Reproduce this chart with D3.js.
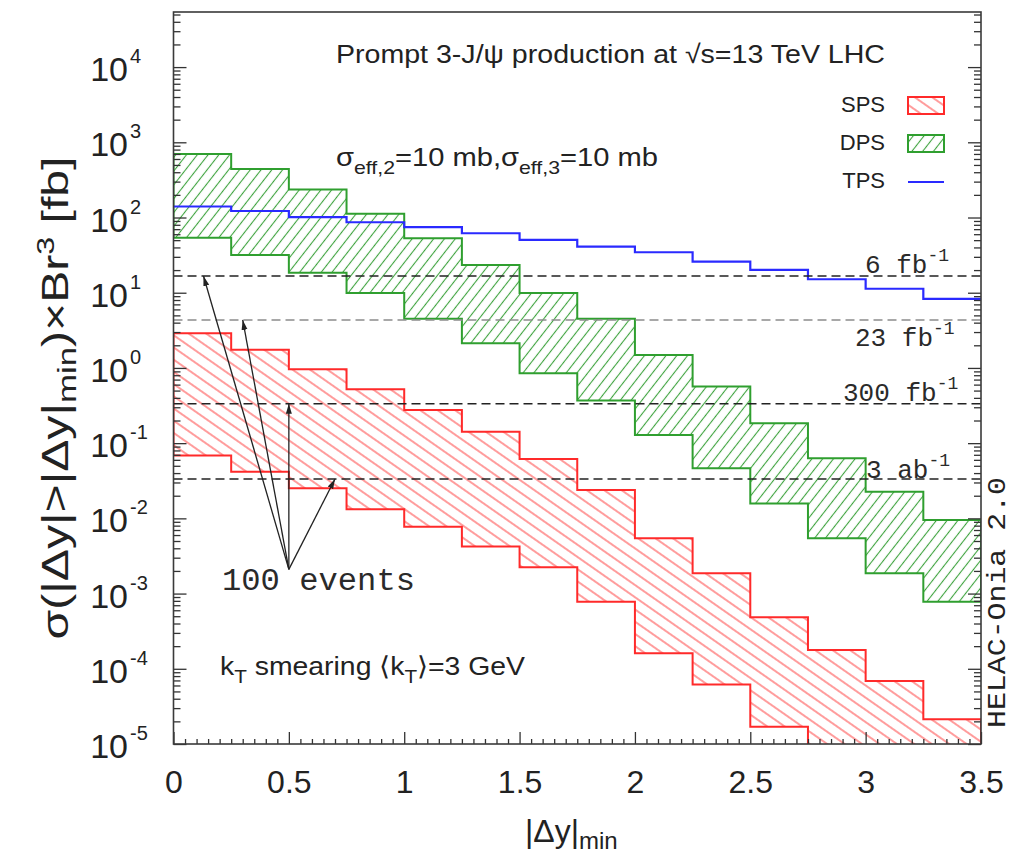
<!DOCTYPE html>
<html>
<head>
<meta charset="utf-8">
<script src="https://cdn.jsdelivr.net/npm/d3@7"></script>
<style>
  body { margin: 0; background: #fff; }
  svg { display: block; }
</style>
</head>
<body>
<svg id="chart" width="1014" height="858"></svg>
<script>
// |Δy|_min bin edges (0.25 wide bins)
const binEdges = [0, 0.25, 0.5, 0.75, 1, 1.25, 1.5, 1.75, 2, 2.25, 2.5, 2.75, 3, 3.25, 3.5];

// SPS band (fb), per bin
const spsHigh = [2.89, 1.74, 0.96, 0.521, 0.276, 0.142, 0.0617, 0.0239, 0.00543, 0.00186, 4.84e-4, 1.78e-4, 6.9e-5, 2.13e-5];
const spsLow  = [0.0683, 0.0418, 0.0251, 0.0132, 0.00776, 0.00421, 0.00224, 7.8e-4, 1.61e-4, 6.2e-5, 1.7e-5, 4e-6, 1.5e-6, 5e-7];

// DPS band (fb), per bin
const dpsHigh = [700, 440, 236, 112, 53, 23.4, 9.9, 4.5, 1.49, 0.565, 0.184, 0.063, 0.0226, 0.0095];
const dpsLow  = [54, 31.8, 18.5, 9.9, 4.5, 2.13, 0.85, 0.37, 0.128, 0.0463, 0.0158, 0.00543, 0.00186, 0.00078];

// TPS central curve (fb), per bin
const tps = [140, 122, 101, 86.5, 74.3, 61.8, 50.4, 41, 34.5, 25.9, 20.1, 15.1, 11.3, 8.27];

// Integrated luminosities (fb^-1) giving 100 events
const nEvents = 100;
const lumiFb = [6, 23, 300, 3000];
const lumiText = ["6", "23", "300", "3"];
const lumiUnit = ["fb", "fb", "fb", "ab"];

// "100 events" arrows: common origin and x of each arrow tip
const arrowOrigin = [0.5, 0.0021];
const arrowTipX = [0.13, 0.3, 0.5, 0.7];

// Axis ticks
const xMajor = [0, 0.5, 1, 1.5, 2, 2.5, 3, 3.5];
const yDecades = [-5, -4, -3, -2, -1, 0, 1, 2, 3, 4];

const svg = d3.select("#chart");
const pLeft = 173.5, pRight = 981, pTop = 12, pBottom = 744;

const x = d3.scaleLinear().domain([0, 3.5]).range([pLeft, pRight]);
const y = d3.scaleLog().domain([1e-5, 5.4e4]).range([pBottom, pTop]);

const defs = svg.append("defs");
defs.append("clipPath").attr("id", "plotClip")
  .append("rect").attr("x", pLeft).attr("y", pTop)
  .attr("width", pRight - pLeft).attr("height", pBottom - pTop);

function hatch(id, color, angle, spacing, width) {
  const p = defs.append("pattern").attr("id", id)
    .attr("patternUnits", "userSpaceOnUse")
    .attr("width", spacing).attr("height", spacing)
    .attr("patternTransform", `rotate(${angle})`);
  p.append("line").attr("x1", 0).attr("x2", spacing)
    .attr("y1", spacing / 2).attr("y2", spacing / 2)
    .attr("stroke", color).attr("stroke-width", width);
}
hatch("hatchSPS", "#ff5a5a", 35, 10, 1.2);
hatch("hatchDPS", "#3da23d", -52, 8.5, 1.1);

defs.append("marker").attr("id", "arrowHead")
  .attr("markerUnits", "userSpaceOnUse")
  .attr("viewBox", "0 -4 10 8").attr("refX", 10).attr("refY", 0)
  .attr("markerWidth", 10).attr("markerHeight", 8).attr("orient", "auto")
  .append("path").attr("d", "M0,-3 L10,0 L0,3 Z").attr("fill", "#222");

// Step data: the last bin value is repeated at the right edge
function steps(hi, lo) {
  return binEdges.map((e, i) => {
    const k = Math.min(i, hi.length - 1);
    return { x: e, hi: hi[k], lo: lo ? lo[k] : null };
  });
}

const plot = svg.append("g").attr("clip-path", "url(#plotClip)");

const area = d3.area().curve(d3.curveStepAfter)
  .x(d => x(d.x)).y0(d => y(d.lo)).y1(d => y(d.hi));
const lineHi = d3.line().curve(d3.curveStepAfter).x(d => x(d.x)).y(d => y(d.hi));
const lineLo = d3.line().curve(d3.curveStepAfter).x(d => x(d.x)).y(d => y(d.lo));

function band(hi, lo, fillId, stroke) {
  const data = steps(hi, lo);
  plot.append("path").attr("d", area(data)).attr("fill", `url(#${fillId})`);
  plot.append("path").attr("d", lineHi(data)).attr("fill", "none")
    .attr("stroke", stroke).attr("stroke-width", 2);
  plot.append("path").attr("d", lineLo(data)).attr("fill", "none")
    .attr("stroke", stroke).attr("stroke-width", 2);
  // vertical closing edges at the band ends
  [0, data.length - 1].forEach(i => {
    plot.append("line").attr("x1", x(data[i].x)).attr("x2", x(data[i].x))
      .attr("y1", y(data[i].hi)).attr("y2", y(data[i].lo))
      .attr("stroke", stroke).attr("stroke-width", 2);
  });
}
band(spsHigh, spsLow, "hatchSPS", "#ff2a2a");
band(dpsHigh, dpsLow, "hatchDPS", "#2f9f2f");

plot.append("path").attr("d", lineHi(steps(tps))).attr("fill", "none")
  .attr("stroke", "#2a2aff").attr("stroke-width", 2.2);

// Luminosity thresholds: 100 events
lumiFb.forEach((L, i) => {
  plot.append("line").attr("x1", pLeft).attr("x2", pRight)
    .attr("y1", y(nEvents / L)).attr("y2", y(nEvents / L))
    .attr("stroke", i === 1 ? "#8c8c8c" : "#222").attr("stroke-width", 1.6)
    .attr("stroke-dasharray", "9,5");
});

// Arrows from the "100 events" label
arrowTipX.forEach((tx, i) => {
  svg.append("line")
    .attr("x1", x(arrowOrigin[0])).attr("y1", y(arrowOrigin[1]))
    .attr("x2", x(tx)).attr("y2", y(nEvents / lumiFb[i]))
    .attr("stroke", "#222").attr("stroke-width", 1.3)
    .attr("marker-end", "url(#arrowHead)");
});

// Axes (ticks point inward)
const yMinor = [];
yDecades.concat([5]).forEach(p => {
  for (let m = 2; m <= 9; m++) {
    const v = m * Math.pow(10, p - 1);
    if (v > 1e-5 && v < 5.4e4) yMinor.push(v);
  }
});
const yMajorVals = yDecades.map(p => Math.pow(10, p));
const xMinor = d3.range(0, 71).map(i => i * 0.05).filter(v => !xMajor.some(m => Math.abs(m - v) < 1e-9));

function styleAxis(g) {
  g.select(".domain").remove();
  g.selectAll(".tick line").attr("stroke", "#333").attr("stroke-width", 1.3);
}
svg.append("g").attr("transform", `translate(${pLeft},0)`)
  .call(d3.axisLeft(y).tickValues(yMinor).tickSize(-7).tickFormat("")).call(styleAxis);
svg.append("g").attr("transform", `translate(${pLeft},0)`)
  .call(d3.axisLeft(y).tickValues(yMajorVals).tickSize(-13).tickFormat("")).call(styleAxis);
svg.append("g").attr("transform", `translate(${pRight},0)`)
  .call(d3.axisRight(y).tickValues(yMinor).tickSize(-7).tickFormat("")).call(styleAxis);
svg.append("g").attr("transform", `translate(${pRight},0)`)
  .call(d3.axisRight(y).tickValues(yMajorVals).tickSize(-13).tickFormat("")).call(styleAxis);
svg.append("g").attr("transform", `translate(0,${pBottom})`)
  .call(d3.axisBottom(x).tickValues(xMinor).tickSize(-5).tickFormat("")).call(styleAxis);
const xAxis = svg.append("g").attr("transform", `translate(0,${pBottom})`)
  .call(d3.axisBottom(x).tickValues(xMajor).tickSize(-12).tickPadding(26).tickFormat(d3.format("")))
  .call(styleAxis);
xAxis.selectAll(".tick text")
  .attr("font-family", "'Liberation Sans', Arial, sans-serif")
  .attr("font-size", 32).attr("fill", "#222");

// Frame
svg.append("rect").attr("x", pLeft).attr("y", pTop)
  .attr("width", pRight - pLeft).attr("height", pBottom - pTop)
  .attr("fill", "none").attr("stroke", "#3a3a3a").attr("stroke-width", 1.6);

// Y tick labels 10^n
const sans = "'Liberation Sans', Arial, sans-serif";
const mono = "'Liberation Mono', 'Courier New', monospace";
yDecades.forEach(p => {
  const py = y(Math.pow(10, p));
  svg.append("text").attr("x", 128).attr("y", py + 14)
    .attr("text-anchor", "end").attr("font-family", sans).attr("font-size", 34)
    .attr("fill", "#222").text("10");
  svg.append("text").attr("x", 130).attr("y", py - 4)
    .attr("font-family", sans).attr("font-size", 20)
    .attr("fill", "#222").text(p < 0 ? "-" + (-p) : String(p));
});

// Rich text helper: segments are [text, shift, size] where shift moves the baseline
function richText(parent, segs, attrs) {
  const t = parent.append("text");
  Object.entries(attrs).forEach(([k, v]) => t.attr(k, v));
  let cur = 0;
  segs.forEach(([s, shift, fs]) => {
    const sp = t.append("tspan").attr("dy", shift - cur).text(s);
    if (fs) sp.attr("font-size", fs);
    cur = shift;
  });
  return t;
}

// Axis titles
richText(svg, [["|Δy|", 0], ["min", 7, 24]],
  { x: 525, y: 842, "font-family": sans, "font-size": 32, fill: "#222" });

richText(svg.append("g").attr("transform", "translate(68,398) rotate(-90)"),
  [["σ(|Δy|>|Δy|", 0], ["min", 8, 26], [")×Br", 0], ["3", -14, 24], [" [fb]", 0]],
  { x: 0, y: 0, "text-anchor": "middle", "font-family": sans, "font-size": 36, fill: "#222",
    textLength: 483, lengthAdjust: "spacingAndGlyphs" });

// Annotations
richText(svg, [["Prompt 3-J/ψ production at √s=13 TeV LHC", 0]],
  { x: 336, y: 63, "font-family": sans, "font-size": 26, fill: "#222",
    textLength: 549, lengthAdjust: "spacingAndGlyphs" });

richText(svg, [["σ", 0], ["eff,2", 8, 19], ["=10 mb,σ", 0], ["eff,3", 8, 19], ["=10 mb", 0]],
  { x: 336, y: 166, "font-family": sans, "font-size": 26, fill: "#222",
    textLength: 322, lengthAdjust: "spacingAndGlyphs" });

richText(svg, [["k", 0], ["T", 8, 19], [" smearing ⟨k", 0], ["T", 8, 19], ["⟩=3 GeV", 0]],
  { x: 220, y: 675, "font-family": sans, "font-size": 26, fill: "#222",
    textLength: 305, lengthAdjust: "spacingAndGlyphs" });

svg.append("text").attr("x", 222).attr("y", 590)
  .attr("font-family", mono).attr("font-size", 31).attr("fill", "#2a2a2a")
  .attr("textLength", 193).attr("lengthAdjust", "spacingAndGlyphs")
  .text(nEvents + " events");

// Luminosity labels
const lumiPos = [[865, 273], [855, 346], [843, 401], [866, 478]];
lumiFb.forEach((L, i) => {
  richText(svg, [[lumiText[i] + " " + lumiUnit[i], 0], ["-1", -12, 18]],
    { x: lumiPos[i][0], y: lumiPos[i][1], "font-family": mono, "font-size": 26, fill: "#2a2a2a" });
});

// Generator tag
svg.append("text").attr("transform", "translate(1005,728) rotate(-90)")
  .attr("font-family", mono).attr("font-size", 26).attr("fill", "#222")
  .attr("textLength", 251).attr("lengthAdjust", "spacingAndGlyphs")
  .text("HELAC-Onia 2.0");

// Legend
const legend = [
  { name: "SPS", y: 112, kind: "box", fill: "hatchSPS", stroke: "#ff2a2a" },
  { name: "DPS", y: 150, kind: "box", fill: "hatchDPS", stroke: "#2f9f2f" },
  { name: "TPS", y: 188, kind: "line", stroke: "#2a2aff" }
];
legend.forEach(d => {
  svg.append("text").attr("x", 885).attr("y", d.y).attr("text-anchor", "end")
    .attr("font-family", sans).attr("font-size", 22).attr("fill", "#222").text(d.name);
  if (d.kind === "box") {
    svg.append("rect").attr("x", 908).attr("y", d.y - 15).attr("width", 36).attr("height", 17)
      .attr("fill", `url(#${d.fill})`).attr("stroke", d.stroke).attr("stroke-width", 2);
  } else {
    svg.append("line").attr("x1", 908).attr("x2", 944).attr("y1", d.y - 6).attr("y2", d.y - 6)
      .attr("stroke", d.stroke).attr("stroke-width", 2);
  }
});
</script>
</body>
</html>
